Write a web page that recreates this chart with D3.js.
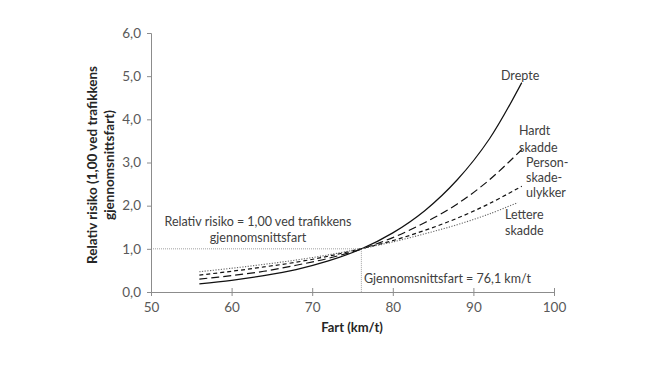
<!DOCTYPE html>
<html><head><meta charset="utf-8">
<script src="https://cdn.jsdelivr.net/npm/d3@7"></script>
<style>body{margin:0;background:#fff;} text{font-family:Lato,"Open Sans",sans-serif;}</style>
</head><body>
<svg id="c" width="650" height="366"></svg>
<script>
const speeds = [56, 60, 64, 68, 72, 76, 80, 84, 88, 92, 96];
const speedsLettere = [56, 60, 64, 68, 72, 76, 80, 84, 88, 92, 95.5];
const drepte = [0.19, 0.27, 0.38, 0.52, 0.72, 0.99, 1.37, 1.89, 2.60, 3.55, 4.85];
const hardtSkadde = [0.30, 0.38, 0.48, 0.62, 0.78, 0.99, 1.26, 1.61, 2.04, 2.60, 3.30];
const personskadeulykker = [0.39, 0.48, 0.58, 0.69, 0.83, 1.0, 1.19, 1.43, 1.71, 2.05, 2.45];
const lettereSkadde = [0.47, 0.55, 0.64, 0.74, 0.86, 1.0, 1.16, 1.35, 1.56, 1.81, 2.07];
const xTicks = [50, 60, 70, 80, 90, 100];
const yTicks = [0, 1, 2, 3, 4, 5, 6];
const avgSpeed = 76.1;

const svg = d3.select("#c");
const x = d3.scaleLinear().domain([50, 100]).range([151, 554]);
const y = d3.scaleLinear().domain([0, 6]).range([292, 33]);
const axisColor = "#8c8c8c", labelColor = "#595959";

// axes
const xa = svg.append("g").attr("transform", "translate(0,292)")
  .call(d3.axisBottom(x).tickValues(xTicks).tickSize(4).tickPadding(6).tickFormat(d3.format("d")));
const ya = svg.append("g").attr("transform", "translate(151,0)")
  .call(d3.axisLeft(y).tickValues(yTicks).tickSize(4).tickPadding(6).tickFormat(d => d.toFixed(1).replace(".", ",")));
[xa, ya].forEach(a => {
  a.select(".domain").attr("stroke", axisColor);
  a.selectAll(".tick line").attr("stroke", axisColor);
  a.selectAll(".tick text").attr("fill", labelColor).style("font-size", "13.5px").style("font-family", "Lato,'Open Sans',sans-serif");
});
xa.selectAll(".tick line").attr("y1", -4);

// reference lines
svg.append("line").attr("x1", x(50)).attr("x2", x(avgSpeed)).attr("y1", y(1)).attr("y2", y(1))
  .attr("stroke", "#888").attr("stroke-width", 0.8).attr("stroke-dasharray", "1,1");
svg.append("line").attr("x1", x(avgSpeed)).attr("x2", x(avgSpeed)).attr("y1", y(1)).attr("y2", y(0))
  .attr("stroke", "#888").attr("stroke-width", 0.8).attr("stroke-dasharray", "1,1");

// curves
const series = [
  {xs: speeds, ys: drepte, dash: null, color: "#111", w: 1.2},
  {xs: speeds, ys: hardtSkadde, dash: "8,4", color: "#111", w: 1.2},
  {xs: speeds, ys: personskadeulykker, dash: "4,3", color: "#111", w: 1.2},
  {xs: speedsLettere, ys: lettereSkadde, dash: "1.2,1.5", color: "#666", w: 1.1}
];
const line = d3.line().x(d => x(d[0])).y(d => y(d[1])).curve(d3.curveCatmullRom);
series.forEach(s => {
  svg.append("path").datum(s.xs.map((v, i) => [v, s.ys[i]]))
    .attr("d", line).attr("fill", "none").attr("stroke", s.color).attr("stroke-width", s.w)
    .attr("stroke-dasharray", s.dash);
});

// text labels
const txt = (t, px, py, anchor, opts = {}) => svg.append("text").attr("x", px).attr("y", py)
  .attr("text-anchor", anchor || "start").attr("fill", opts.fill || "#404040")
  .style("font-size", (opts.size || 12.5) + "px").style("font-weight", opts.weight || "normal").text(t);

txt("Relativ risiko = 1,00 ved trafikkens", 258, 226, "middle");
txt("gjennomsnittsfart", 258, 242, "middle");
txt("Gjennomsnittsfart = 76,1 km/t", 364, 283, "start");
txt("Drepte", 501, 80);
txt("Hardt", 519, 135);
txt("skadde", 519, 152);
txt("Person-", 526, 167);
txt("skade-", 526, 182);
txt("ulykker", 526, 197);
txt("Lettere", 505, 219);
txt("skadde", 505, 235);

// axis titles
txt("Fart (km/t)", 352, 332, "middle", {weight: "bold", size: 13, fill: "#262626"});
const yt = svg.append("text").attr("transform", "translate(97,165) rotate(-90)")
  .attr("text-anchor", "middle").attr("fill", "#262626")
  .style("font-size", "13.5px").style("font-weight", "bold");
yt.append("tspan").attr("x", 0).attr("dy", 0).text("Relativ risiko (1,00 ved trafikkens");
yt.append("tspan").attr("x", 0).attr("dy", 17).text("gjennomsnittsfart)");
</script>
</body></html>
